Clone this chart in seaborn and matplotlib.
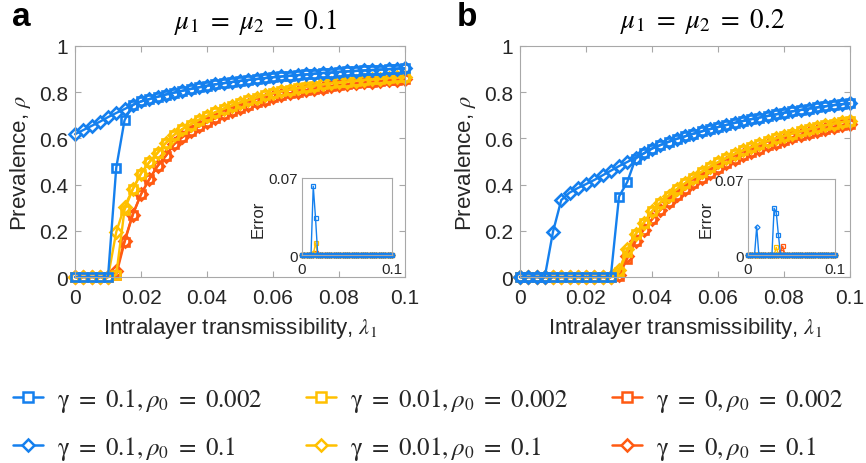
import matplotlib
matplotlib.use("Agg")
import matplotlib.pyplot as plt
from matplotlib.lines import Line2D
import numpy as np
import pandas as pd
import seaborn as sns

sns.set_style("ticks")
plt.rcParams["font.family"] = ["Liberation Sans", "DejaVu Sans"]
plt.rcParams["mathtext.fontset"] = "stix"

# ---------------- data ----------------
LAM = [0.0, 0.0025, 0.005, 0.0075, 0.01, 0.0125, 0.015, 0.0175, 0.02, 0.0225,
       0.025, 0.0275, 0.03, 0.0325, 0.035, 0.0375, 0.04, 0.0425, 0.045, 0.0475,
       0.05, 0.0525, 0.055, 0.0575, 0.06, 0.0625, 0.065, 0.0675, 0.07, 0.0725,
       0.075, 0.0775, 0.08, 0.0825, 0.085, 0.0875, 0.09, 0.0925, 0.095, 0.0975, 0.1]

# panel a  (mu1 = mu2 = 0.1)
A_BLUE_SQ = [0, 0, 0, 0, 0, 0.473, 0.678, 0.745, 0.760, 0.770, 0.780, 0.790, 0.798, 0.806,
             0.814, 0.821, 0.828, 0.834, 0.839, 0.844, 0.849, 0.853, 0.857, 0.861, 0.865,
             0.868, 0.871, 0.874, 0.877, 0.880, 0.883, 0.885, 0.888, 0.890, 0.892, 0.894,
             0.896, 0.898, 0.900, 0.902, 0.904]
A_BLUE_DI = [0.618, 0.636, 0.654, 0.672, 0.692, 0.710, 0.727, 0.745, 0.760, 0.770, 0.780,
             0.790, 0.798, 0.806, 0.814, 0.821, 0.828, 0.834, 0.839, 0.844, 0.849, 0.853,
             0.857, 0.861, 0.865, 0.868, 0.871, 0.874, 0.877, 0.880, 0.883, 0.885, 0.888,
             0.890, 0.892, 0.894, 0.896, 0.898, 0.900, 0.902, 0.904]
A_YEL_SQ = [0, 0, 0, 0, 0, 0.010, 0.290, 0.380, 0.448, 0.497, 0.537, 0.580, 0.615, 0.640,
            0.660, 0.680, 0.697, 0.713, 0.728, 0.742, 0.755, 0.766, 0.777, 0.787, 0.796,
            0.804, 0.811, 0.818, 0.824, 0.829, 0.834, 0.838, 0.842, 0.846, 0.850, 0.853,
            0.856, 0.859, 0.862, 0.864, 0.866]
A_YEL_DI = [0, 0, 0, 0, 0, 0.195, 0.305, 0.380, 0.448, 0.497, 0.537, 0.580, 0.615, 0.640,
            0.660, 0.680, 0.697, 0.713, 0.728, 0.742, 0.755, 0.766, 0.777, 0.787, 0.796,
            0.804, 0.811, 0.818, 0.824, 0.829, 0.834, 0.838, 0.842, 0.846, 0.850, 0.853,
            0.856, 0.859, 0.862, 0.864, 0.866]
A_ORA_SQ = [0, 0, 0, 0, 0, 0.010, 0.150, 0.270, 0.358, 0.423, 0.480, 0.524, 0.575, 0.605,
            0.630, 0.652, 0.670, 0.688, 0.704, 0.719, 0.733, 0.745, 0.757, 0.768, 0.778,
            0.787, 0.795, 0.802, 0.809, 0.815, 0.820, 0.825, 0.830, 0.834, 0.838, 0.842,
            0.845, 0.848, 0.851, 0.854, 0.857]
A_ORA_DI = [0, 0, 0, 0, 0, 0.025, 0.156, 0.270, 0.358, 0.423, 0.480, 0.524, 0.575, 0.605,
            0.630, 0.652, 0.670, 0.688, 0.704, 0.719, 0.733, 0.745, 0.757, 0.768, 0.778,
            0.787, 0.795, 0.802, 0.809, 0.815, 0.820, 0.825, 0.830, 0.834, 0.838, 0.842,
            0.845, 0.848, 0.851, 0.854, 0.857]

# panel b  (mu1 = mu2 = 0.2)
B_BLUE_SQ = [0, 0, 0, 0, 0, 0, 0, 0, 0, 0, 0, 0, 0.348, 0.411, 0.512, 0.535, 0.556, 0.571,
             0.585, 0.598, 0.609, 0.620, 0.630, 0.640, 0.649, 0.658, 0.667, 0.675, 0.683,
             0.690, 0.697, 0.704, 0.711, 0.717, 0.723, 0.729, 0.734, 0.739, 0.744, 0.748, 0.752]
B_BLUE_DI = [0, 0, 0, 0, 0.196, 0.333, 0.365, 0.385, 0.402, 0.420, 0.440, 0.460, 0.480,
             0.498, 0.517, 0.535, 0.556, 0.571, 0.585, 0.598, 0.609, 0.620, 0.630, 0.640,
             0.649, 0.658, 0.667, 0.675, 0.683, 0.690, 0.697, 0.704, 0.711, 0.717, 0.723,
             0.729, 0.734, 0.739, 0.744, 0.748, 0.752]
B_YEL_SQ = [0, 0, 0, 0, 0, 0, 0, 0, 0, 0, 0, 0, 0.020, 0.110, 0.185, 0.235, 0.285, 0.322,
            0.352, 0.380, 0.406, 0.430, 0.455, 0.477, 0.497, 0.515, 0.532, 0.548, 0.562,
            0.576, 0.589, 0.600, 0.611, 0.621, 0.631, 0.640, 0.649, 0.657, 0.664, 0.670, 0.676]
B_YEL_DI = [0, 0, 0, 0, 0, 0, 0, 0, 0, 0, 0, 0, 0.030, 0.120, 0.185, 0.235, 0.285, 0.322,
            0.352, 0.380, 0.406, 0.430, 0.455, 0.477, 0.497, 0.515, 0.532, 0.548, 0.562,
            0.576, 0.589, 0.600, 0.611, 0.621, 0.631, 0.640, 0.649, 0.657, 0.664, 0.670, 0.676]
B_ORA_SQ = [0, 0, 0, 0, 0, 0, 0, 0, 0, 0, 0, 0, 0.005, 0.080, 0.155, 0.205, 0.250, 0.290,
            0.323, 0.353, 0.380, 0.405, 0.430, 0.452, 0.473, 0.492, 0.510, 0.527, 0.542,
            0.556, 0.570, 0.582, 0.594, 0.605, 0.615, 0.625, 0.634, 0.642, 0.650, 0.657, 0.663]
B_ORA_DI = [0, 0, 0, 0, 0, 0, 0, 0, 0, 0, 0, 0, 0.010, 0.090, 0.155, 0.205, 0.250, 0.290,
            0.323, 0.353, 0.380, 0.405, 0.430, 0.452, 0.473, 0.492, 0.510, 0.527, 0.542,
            0.556, 0.570, 0.582, 0.594, 0.605, 0.615, 0.625, 0.634, 0.642, 0.650, 0.657, 0.663]

# inset errors
A_ERR_BLUE_SQ = [0, 0, 0, 0, 0, 0.0625, 0.034, 0, 0, 0, 0, 0, 0, 0, 0, 0, 0, 0, 0, 0, 0,
                 0, 0, 0, 0, 0, 0, 0, 0, 0, 0, 0, 0, 0, 0, 0, 0, 0, 0, 0, 0]
A_ERR_BLUE_DI = [0, 0, 0, 0, 0, 0, 0, 0, 0, 0, 0, 0, 0, 0, 0, 0, 0, 0, 0, 0, 0,
                 0, 0, 0, 0, 0, 0, 0, 0, 0, 0, 0, 0, 0, 0, 0, 0, 0, 0, 0, 0]
A_ERR_YEL_SQ = [0, 0, 0, 0, 0, 0, 0.011, 0, 0, 0, 0, 0, 0, 0, 0, 0, 0, 0, 0, 0, 0,
                0, 0, 0, 0, 0, 0, 0, 0, 0, 0, 0, 0, 0, 0, 0, 0, 0, 0, 0, 0]
A_ERR_YEL_DI = [0, 0, 0, 0, 0, 0.002, 0, 0, 0, 0, 0, 0, 0, 0, 0, 0, 0, 0, 0, 0, 0,
                0, 0, 0, 0, 0, 0, 0, 0, 0, 0, 0, 0, 0, 0, 0, 0, 0, 0, 0, 0]
A_ERR_ORA_SQ = [0, 0, 0, 0, 0, 0, 0.002, 0, 0, 0, 0, 0, 0, 0, 0, 0, 0, 0, 0, 0, 0,
                0, 0, 0, 0, 0, 0, 0, 0, 0, 0, 0, 0, 0, 0, 0, 0, 0, 0, 0, 0]
A_ERR_ORA_DI = [0, 0, 0, 0, 0, 0, 0, 0, 0, 0, 0, 0, 0, 0, 0, 0, 0, 0, 0, 0, 0,
                0, 0, 0, 0, 0, 0, 0, 0, 0, 0, 0, 0, 0, 0, 0, 0, 0, 0, 0, 0]

B_ERR_BLUE_SQ = [0, 0, 0, 0, 0, 0, 0, 0, 0, 0, 0, 0, 0.043, 0.039, 0.018, 0, 0, 0, 0, 0, 0,
                 0, 0, 0, 0, 0, 0, 0, 0, 0, 0, 0, 0, 0, 0, 0, 0, 0, 0, 0, 0]
B_ERR_BLUE_DI = [0, 0, 0, 0, 0.026, 0, 0, 0, 0, 0, 0, 0, 0, 0, 0, 0, 0, 0, 0, 0, 0,
                 0, 0, 0, 0, 0, 0, 0, 0, 0, 0, 0, 0, 0, 0, 0, 0, 0, 0, 0, 0]
B_ERR_YEL_SQ = [0, 0, 0, 0, 0, 0, 0, 0, 0, 0, 0, 0, 0, 0.007, 0, 0, 0, 0, 0, 0, 0,
                0, 0, 0, 0, 0, 0, 0, 0, 0, 0, 0, 0, 0, 0, 0, 0, 0, 0, 0, 0]
B_ERR_YEL_DI = [0, 0, 0, 0, 0, 0, 0, 0, 0, 0, 0, 0, 0, 0, 0, 0, 0, 0, 0, 0, 0,
                0, 0, 0, 0, 0, 0, 0, 0, 0, 0, 0, 0, 0, 0, 0, 0, 0, 0, 0, 0]
B_ERR_ORA_SQ = [0, 0, 0, 0, 0, 0, 0, 0, 0, 0, 0, 0, 0, 0, 0, 0.003, 0.008, 0, 0, 0, 0,
                0, 0, 0, 0, 0, 0, 0, 0, 0, 0, 0, 0, 0, 0, 0, 0, 0, 0, 0, 0]
B_ERR_ORA_DI = [0, 0, 0, 0, 0, 0, 0, 0, 0, 0, 0, 0, 0, 0, 0, 0, 0, 0, 0, 0, 0,
                0, 0, 0, 0, 0, 0, 0, 0, 0, 0, 0, 0, 0, 0, 0, 0, 0, 0, 0, 0]

LABELS = [r"$\mathrm{\gamma}\ =\ 0.1,\rho_0\ =\ 0.002$",
          r"$\mathrm{\gamma}\ =\ 0.1,\rho_0\ =\ 0.1$",
          r"$\mathrm{\gamma}\ =\ 0.01,\rho_0\ =\ 0.002$",
          r"$\mathrm{\gamma}\ =\ 0.01,\rho_0\ =\ 0.1$",
          r"$\mathrm{\gamma}\ =\ 0,\rho_0\ =\ 0.002$",
          r"$\mathrm{\gamma}\ =\ 0,\rho_0\ =\ 0.1$"]

XTICKS = [0, 0.02, 0.04, 0.06, 0.08, 0.1]
XTICKLABELS = ["0", "0.02", "0.04", "0.06", "0.08", "0.1"]
YTICKS = [0, 0.2, 0.4, 0.6, 0.8, 1.0]
YTICKLABELS = ["0", "0.2", "0.4", "0.6", "0.8", "1"]
TITLES = [r"$\mu_1\ =\ \mu_2\ =\ 0.1$", r"$\mu_1\ =\ \mu_2\ =\ 0.2$"]
PANELS = ["a", "b"]

# ---------------- style ----------------
BLUE = "#1580EE"
YEL = "#FFC000"
ORA = "#FF5A12"
SPINE = "#a8a8a8"
TXT = "#262626"

W, H = 866, 464
fig = plt.figure(figsize=(W / 100, H / 100), dpi=100)
fig.patch.set_facecolor("white")


def box(l, t, r, b):
    return [l / W, 1 - b / H, (r - l) / W, (b - t) / H]


def draw(ax, series, ms, lw, mew, clip=True):
    for yvals, col, mk in series:
        df = pd.DataFrame({"lam": LAM, "val": yvals})
        sns.lineplot(data=df, x="lam", y="val", ax=ax, color=col, marker=mk,
                     markersize=ms, markeredgecolor=col, markerfacecolor="none",
                     markeredgewidth=mew, linewidth=lw, errorbar=None,
                     legend=False, clip_on=clip)


main_series = [
    [(A_ORA_DI, ORA, "D"), (A_ORA_SQ, ORA, "s"), (A_YEL_DI, YEL, "D"), (A_YEL_SQ, YEL, "s"),
     (A_BLUE_DI, BLUE, "D"), (A_BLUE_SQ, BLUE, "s")],
    [(B_ORA_DI, ORA, "D"), (B_ORA_SQ, ORA, "s"), (B_YEL_DI, YEL, "D"), (B_YEL_SQ, YEL, "s"),
     (B_BLUE_DI, BLUE, "D"), (B_BLUE_SQ, BLUE, "s")],
]
inset_series = [
    [(A_ERR_ORA_DI, ORA, "D"), (A_ERR_ORA_SQ, ORA, "s"), (A_ERR_YEL_DI, YEL, "D"),
     (A_ERR_YEL_SQ, YEL, "s"), (A_ERR_BLUE_DI, BLUE, "D"), (A_ERR_BLUE_SQ, BLUE, "s")],
    [(B_ERR_ORA_DI, ORA, "D"), (B_ERR_ORA_SQ, ORA, "s"), (B_ERR_YEL_DI, YEL, "D"),
     (B_ERR_YEL_SQ, YEL, "s"), (B_ERR_BLUE_DI, BLUE, "D"), (B_ERR_BLUE_SQ, BLUE, "s")],
]

main_boxes = [box(75, 47, 405, 278), box(520, 47, 850, 278)]
inset_boxes = [box(302, 179, 392, 256), box(748, 180, 835, 256)]
title_x = [255, 702]
panel_x = [21, 467]

for k in range(2):
    ax = fig.add_axes(main_boxes[k])
    draw(ax, main_series[k], ms=6.3, lw=1.7, mew=1.9, clip=False)
    ax.set_xlim(0, 0.1)
    ax.set_ylim(0, 1)
    ax.set_xticks(XTICKS)
    ax.set_xticklabels(XTICKLABELS)
    ax.set_yticks(YTICKS)
    ax.set_yticklabels(YTICKLABELS)
    ax.tick_params(direction="in", length=4, width=0.8, color=SPINE, labelsize=15,
                   labelcolor=TXT, top=True, right=True)
    ax.tick_params(axis="x", pad=8)
    ax.tick_params(axis="y", pad=5)
    for s in ax.spines.values():
        s.set_color(SPINE)
        s.set_linewidth(0.8)
        s.set_visible(True)
    ax.set_xlabel(r"Intralayer transmissibility, $\lambda_1$", fontsize=16, color=TXT,
                  labelpad=6)
    ax.set_ylabel(r"Prevalence, $\rho$", fontsize=16, color=TXT, labelpad=4)
    fig.text(title_x[k] / W, 1 - 22 / H, TITLES[k], fontsize=19.5, ha="center",
             va="center", color="black")
    fig.text(panel_x[k] / W, 1 - 18 / H, PANELS[k], fontsize=24, fontweight="bold",
             ha="center", va="center", color="black")

    ins = fig.add_axes(inset_boxes[k])
    draw(ins, inset_series[k], ms=2.6, lw=1.0, mew=0.9, clip=False)
    ins.set_xlim(0, 0.1)
    ins.set_ylim(0, 0.07)
    ins.set_xticks([0, 0.1])
    ins.set_xticklabels(["0", "0.1"])
    ins.set_yticks([0, 0.07])
    ins.set_yticklabels(["0", "0.07"])
    ins.tick_params(length=0, labelsize=11, labelcolor=TXT)
    ins.tick_params(axis="x", pad=5)
    ins.tick_params(axis="y", pad=3)
    for s in ins.spines.values():
        s.set_color(SPINE)
        s.set_linewidth(0.8)
        s.set_visible(True)
    ins.set_xlabel("")
    ins.set_ylabel("Error", fontsize=12, color=TXT)
    ins.yaxis.set_label_coords(-0.40, 0.48)
    ins.set_facecolor("white")

handles = []
for col in (BLUE, YEL, ORA):
    for mk in ("s", "D"):
        handles.append(Line2D([], [], color=col, marker=mk, markersize=6.5,
                              markerfacecolor="white", markeredgewidth=1.8,
                              linewidth=1.8))
leg = fig.legend(handles, LABELS, ncol=3, loc="center",
                 bbox_to_anchor=(428 / W, 1 - 425 / H), frameon=False, fontsize=18,
                 handlelength=1.2, handletextpad=0.55, columnspacing=1.75,
                 labelspacing=0.8)

fig.savefig("out.png", dpi=100, facecolor="white")
